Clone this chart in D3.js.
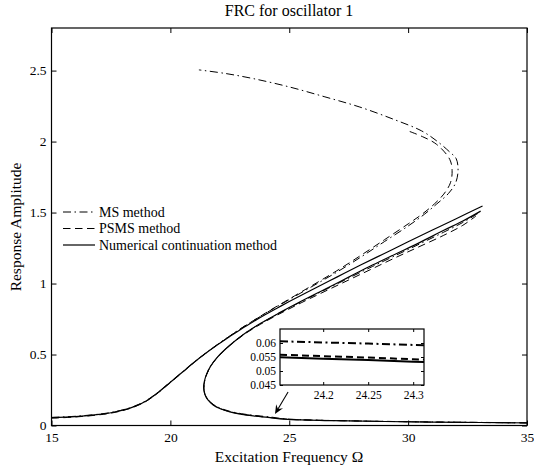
<!DOCTYPE html>
<html>
<head>
<meta charset="utf-8">
<script src="https://cdn.jsdelivr.net/npm/d3@7"></script>
<style>
body { margin: 0; background: #fff; }
</style>
</head>
<body>
<svg id="chart" width="534" height="469"></svg>
<script>
"use strict";
var serif = "'Liberation Serif', 'Times New Roman', serif";

// ticks
var xTicks = [15, 20, 25, 30, 35];
var yTicks = [0, 0.5, 1, 1.5, 2, 2.5];
var insetXTicks = [24.2, 24.25, 24.3];
var insetYTicks = [0.045, 0.05, 0.055, 0.06];

// branch that starts at low frequency and climbs onto the upper branch  [Omega, amplitude]
var ncBranchA = [[15,0.055],[16,0.063],[17,0.078],[17.5,0.09],[18,0.108],[18.5,0.135],[19,0.175],[19.5,0.235],
  [20,0.305],[20.5,0.375],[21,0.445],[21.5,0.51],[22,0.57],[22.5,0.627],[23,0.682],[23.5,0.733],[24,0.782],
  [24.5,0.828],[25,0.873],[26,0.96],[27,1.045],[28,1.13],[29,1.212],[30,1.294],[31,1.375],[32,1.455],[33.13,1.546]];
var msBranchA = [[15,0.057],[16,0.065],[17,0.08],[17.5,0.092],[18,0.11],[18.5,0.137],[19,0.177],[19.5,0.237],
  [20,0.307],[20.5,0.377],[21,0.447],[21.5,0.512],[22,0.573],[22.5,0.631],[23,0.687],[23.5,0.739],[24,0.79],
  [24.5,0.839],[25,0.887],[26,0.983],[27,1.08],[28,1.185],[29,1.295],[30,1.405],[30.7,1.49],[31.2,1.56],
  [31.7,1.635],[32.0,1.71],[32.1,1.8],[32.02,1.88],[31.76,1.925],[31.2,2.005],[30.57,2.075],[29.37,2.158],
  [27.97,2.243],[26.5,2.315],[25,2.385],[23.5,2.443],[22.3,2.48],[21.2,2.505]];
var psmsBranchA = [[15,0.051],[16,0.06],[17,0.075],[17.5,0.087],[18,0.105],[18.5,0.132],[19,0.172],[19.5,0.232],
  [20,0.302],[20.5,0.373],[21,0.444],[21.5,0.51],[22,0.571],[22.5,0.63],[23,0.687],[23.5,0.74],[24,0.792],
  [24.5,0.842],[25,0.891],[26,0.99],[27,1.09],[28,1.197],[29,1.308],[30,1.42],[30.6,1.49],[31.1,1.56],
  [31.5,1.63],[31.78,1.71],[31.85,1.795],[31.75,1.875],[31.2,1.98],[30.6,2.035],[30.0,2.075]];

// branch from high frequency, through the left fold, up again
var ncBranchB = [[35,0.018],[33,0.021],[31,0.024],[29,0.028],[27.5,0.032],[26.5,0.035],[25.5,0.039],[24.8,0.045],
  [24.2,0.055],[23.6,0.066],[23,0.079],[22.5,0.096],[22.1,0.118],[21.8,0.145],[21.58,0.18],[21.45,0.22],
  [21.4,0.265],[21.43,0.31],[21.52,0.36],[21.7,0.42],[22,0.485],[22.5,0.565],[23.1,0.645],[23.8,0.72],
  [24.6,0.795],[25.5,0.875],[26.5,0.96],[27.5,1.045],[28.5,1.13],[29.5,1.21],[30.5,1.29],[31.5,1.375],
  [32.3,1.44],[33.05,1.51]];
var msBranchB = [[35,0.019],[33,0.022],[31,0.025],[29,0.029],[27.5,0.033],[26.5,0.036],[25.5,0.041],[24.8,0.047],
  [24.2,0.06],[23.6,0.07],[23,0.083],[22.5,0.1],[22.1,0.122],[21.8,0.149],[21.58,0.184],[21.45,0.224],
  [21.41,0.268],[21.44,0.313],[21.53,0.363],[21.71,0.423],[22.01,0.487],[22.5,0.566],[23.1,0.645],[23.8,0.719],
  [24.6,0.793],[25.5,0.872],[26.5,0.955],[27.5,1.038],[28.5,1.12],[29.5,1.2],[30.5,1.28],[31.5,1.362],
  [32.3,1.43],[32.95,1.495]];
var psmsBranchB = [[35,0.018],[33,0.021],[31,0.024],[29,0.029],[27.5,0.033],[26.5,0.036],[25.5,0.04],[24.8,0.046],
  [24.2,0.056],[23.6,0.067],[23,0.08],[22.5,0.097],[22.1,0.119],[21.8,0.146],[21.58,0.181],[21.45,0.221],
  [21.41,0.266],[21.44,0.311],[21.53,0.361],[21.71,0.421],[22.01,0.485],[22.5,0.563],[23.1,0.641],[23.8,0.714],
  [24.6,0.787],[25.5,0.864],[26.5,0.945],[27.5,1.025],[28.5,1.105],[29.5,1.185],[30.5,1.262],[31.5,1.34],
  [32.3,1.41],[32.85,1.475]];

// zoomed window near Omega = 24.2
var insetOmega = [24.152, 24.2, 24.25, 24.3, 24.312];
var insetMS = [0.0606, 0.0602, 0.0598, 0.0593, 0.0592];
var insetPSMS = [0.0558, 0.0553, 0.0548, 0.0542, 0.0541];
var insetNC = [0.0549, 0.0544, 0.0539, 0.0533, 0.0532];

// arrow pointing at the zoomed spot [Omega, amplitude]
var arrowTail = [24.95, 0.236];
var arrowHead = [24.40, 0.081];

var legendNames = ["MS method", "PSMS method", "Numerical continuation method"];
var lineStyles = [
  {dash: "8,3.5,1.5,3.5"},
  {dash: "7.5,4.5"},
  {dash: null}
];

var svg = d3.select("#chart");
svg.append("rect").attr("width", 534).attr("height", 469).attr("fill", "#fff");

var x = d3.scaleLinear().domain([15, 35]).range([51.5, 527]);
var y = d3.scaleLinear().domain([0, 2.8]).range([425.5, 28]);

svg.append("clipPath").attr("id", "plotClip")
  .append("rect").attr("x", 51.5).attr("y", 28).attr("width", 527 - 51.5).attr("height", 425.5 - 28);

var line = d3.line()
  .x(function(d) { return x(d[0]); })
  .y(function(d) { return y(d[1]); })
  .curve(d3.curveCatmullRom.alpha(0.5));

var curves = svg.append("g").attr("clip-path", "url(#plotClip)");
var series = [
  {data: msBranchA, style: 0}, {data: msBranchB, style: 0},
  {data: psmsBranchA, style: 1}, {data: psmsBranchB, style: 1},
  {data: ncBranchA, style: 2}, {data: ncBranchB, style: 2}
];
series.forEach(function(s) {
  curves.append("path")
    .attr("d", line(s.data))
    .attr("fill", "none")
    .attr("stroke", "#000")
    .attr("stroke-width", s.style == 2 ? 1.2 : 1)
    .attr("stroke-dasharray", lineStyles[s.style].dash);
});

// axes, ticks pointing inwards like matlab
function styleAxis(g, size) {
  g.attr("font-family", serif).attr("font-size", size);
  g.select(".domain").remove();
  g.selectAll("line").attr("stroke", "#000");
  g.selectAll("text").attr("fill", "#000");
}
svg.append("g").attr("transform", "translate(0,425.5)")
  .call(d3.axisBottom(x).tickValues(xTicks).tickSizeInner(-5).tickSizeOuter(0).tickPadding(7))
  .call(styleAxis, 13.5);
svg.append("g").attr("transform", "translate(0,28)")
  .call(d3.axisTop(x).tickValues(xTicks).tickSizeInner(-5).tickSizeOuter(0).tickFormat(""))
  .call(styleAxis, 13.5);
svg.append("g").attr("transform", "translate(51.5,0)")
  .call(d3.axisLeft(y).tickValues(yTicks).tickSizeInner(-5).tickSizeOuter(0).tickPadding(5)
    .tickFormat(function(d) { return String(d); }))
  .call(styleAxis, 13.5);
svg.append("g").attr("transform", "translate(527,0)")
  .call(d3.axisRight(y).tickValues(yTicks).tickSizeInner(-5).tickSizeOuter(0).tickFormat(""))
  .call(styleAxis, 13.5);
svg.append("rect")
  .attr("x", 51.5).attr("y", 28).attr("width", 527 - 51.5).attr("height", 425.5 - 28)
  .attr("fill", "none").attr("stroke", "#000").attr("stroke-width", 1.2);

// labels
svg.append("text").attr("x", 289).attr("y", 16).attr("text-anchor", "middle")
  .attr("font-family", serif).attr("font-size", 16).text("FRC for oscillator 1");
svg.append("text").attr("x", 289).attr("y", 462).attr("text-anchor", "middle")
  .attr("font-family", serif).attr("font-size", 15.5).text("Excitation Frequency \u03A9");
svg.append("text").attr("transform", "translate(21,227) rotate(-90)").attr("text-anchor", "middle")
  .attr("font-family", serif).attr("font-size", 15.5).text("Response Amplitude");

// legend
var legend = svg.append("g");
legendNames.forEach(function(name, i) {
  var ly = 212 + i * 16.5;
  legend.append("line")
    .attr("x1", 63).attr("x2", 95).attr("y1", ly).attr("y2", ly)
    .attr("stroke", "#000").attr("stroke-width", i == 2 ? 1.2 : 1)
    .attr("stroke-dasharray", lineStyles[i].dash);
  legend.append("text").attr("x", 99).attr("y", ly + 4.5)
    .attr("font-family", serif).attr("font-size", 14).text(name);
});

// arrow
var ax0 = x(arrowTail[0]), ay0 = y(arrowTail[1]);
var ax1 = x(arrowHead[0]), ay1 = y(arrowHead[1]);
var ang = Math.atan2(ay1 - ay0, ax1 - ax0);
var hl = 9, hw = 4;
function pt(along, side) {
  return [ax1 - along * Math.cos(ang) - side * Math.sin(ang), ay1 - along * Math.sin(ang) + side * Math.cos(ang)];
}
svg.append("line")
  .attr("x1", ax0).attr("y1", ay0).attr("x2", pt(5, 0)[0]).attr("y2", pt(5, 0)[1])
  .attr("stroke", "#000").attr("stroke-width", 1.1);
svg.append("path")
  .attr("d", "M" + [pt(0, 0), pt(hl, hw), pt(hl * 0.65, 0), pt(hl, -hw)].join("L") + "Z")
  .attr("fill", "#000");

// inset
var ix = d3.scaleLinear().domain([24.152, 24.312]).range([280, 424]);
var iy = d3.scaleLinear().domain([0.045, 0.065]).range([385, 329]);
var inset = svg.append("g");
inset.append("rect").attr("x", 280).attr("y", 329).attr("width", 144).attr("height", 56).attr("fill", "#fff");
svg.append("clipPath").attr("id", "insetClip")
  .append("rect").attr("x", 280).attr("y", 329).attr("width", 144).attr("height", 56);

var insetLine = d3.line()
  .x(function(d) { return ix(d[0]); })
  .y(function(d) { return iy(d[1]); });
var insetSeries = [insetMS, insetPSMS, insetNC];
var insetDash = ["8,3.5,2,3.5", "7,4", null];
var insetCurves = inset.append("g").attr("clip-path", "url(#insetClip)");
insetSeries.forEach(function(vals, i) {
  insetCurves.append("path")
    .attr("d", insetLine(d3.zip(insetOmega, vals)))
    .attr("fill", "none").attr("stroke", "#000").attr("stroke-width", 2)
    .attr("stroke-dasharray", insetDash[i]);
});
inset.append("g").attr("transform", "translate(0,385)")
  .call(d3.axisBottom(ix).tickValues(insetXTicks).tickSizeInner(-3).tickSizeOuter(0).tickPadding(6)
    .tickFormat(function(d) { return String(d); }))
  .call(styleAxis, 11.5);
inset.append("g").attr("transform", "translate(0,329)")
  .call(d3.axisTop(ix).tickValues(insetXTicks).tickSizeInner(-3).tickSizeOuter(0).tickFormat(""))
  .call(styleAxis, 11.5);
inset.append("g").attr("transform", "translate(280,0)")
  .call(d3.axisLeft(iy).tickValues(insetYTicks).tickSizeInner(-3).tickSizeOuter(0).tickPadding(4)
    .tickFormat(function(d) { return String(d); }))
  .call(styleAxis, 11.5);
inset.append("g").attr("transform", "translate(424,0)")
  .call(d3.axisRight(iy).tickValues(insetYTicks).tickSizeInner(-3).tickSizeOuter(0).tickFormat(""))
  .call(styleAxis, 11.5);
inset.append("rect").attr("x", 280).attr("y", 329).attr("width", 144).attr("height", 56)
  .attr("fill", "none").attr("stroke", "#000").attr("stroke-width", 1.2);
</script>
</body>
</html>
